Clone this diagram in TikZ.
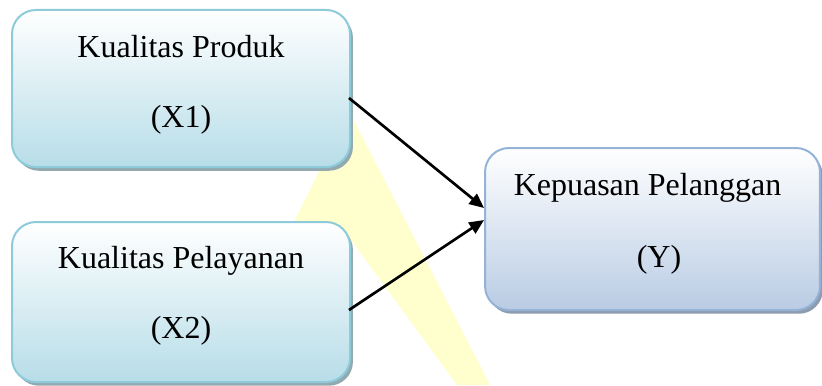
\documentclass[tikz,border=0pt]{standalone}
\usepackage{fontspec}
\setmainfont{Liberation Serif}
\usepackage{tikz}
\usepackage{xcolor}
\usetikzlibrary{calc,positioning,arrows.meta,shadows}

\definecolor{xedge}{RGB}{141,203,218}
\definecolor{xfill}{RGB}{183,221,232}
\definecolor{xshade}{RGB}{147,169,176}
\definecolor{yedge}{RGB}{149,179,215}
\definecolor{yfill}{RGB}{185,204,228}
\definecolor{yshade}{RGB}{142,156,176}
\definecolor{marker}{RGB}{255,255,206}

\tikzset{
	varbox/.style={rectangle, rounded corners=9pt, line width=.75pt, inner sep=0pt},
	xbox/.style={varbox, draw=xedge, top color=white, bottom color=xfill,
		drop shadow={shadow xshift=1.1pt, shadow yshift=-1.4pt, fill=xshade, opacity=1}},
	ybox/.style={varbox, draw=yedge, top color=white, bottom color=yfill,
		drop shadow={shadow xshift=1.1pt, shadow yshift=-1.4pt, fill=yshade, opacity=1}},
	txt/.style={anchor=base, inner sep=0pt, font=\fontsize{12}{14}\selectfont},
	arr/.style={-{Triangle[length=5.5pt,width=4.8pt]}, line width=1pt}
}

\begin{document}
\begin{tikzpicture}[x=0.375pt, y=-0.375pt]
			\useasboundingbox (0,0) rectangle (822,385);

			% highlighter mark behind the boxes
			\fill[marker] (349,111) -- (490,385) -- (457,385) -- (343,229) -- (285,240) -- cycle;

			\node[xbox, minimum width=126.75pt, minimum height=58.9pt] (x1) at (181,88.5) {};
				\node[txt] (x1a) at (181,57) {Kualitas Produk};
				\node[txt] (x1b) at (181,127) {(X1)};

			\node[xbox, minimum width=126.75pt, minimum height=60pt] (x2) at (181,302) {};
				\node[txt] (x2a) at (181,268) {Kualitas Pelayanan};
				\node[txt] (x2b) at (181,338) {(X2)};

			\node[ybox, minimum width=125.6pt, minimum height=60.75pt] (yy) at (652.5,229) {};
				\node[txt] (yya) at (647.5,195) {Kepuasan Pelanggan};
				\node[txt] (yyb) at (659,267) {(Y)};

			\draw[arr] ($(x1.east)+(-2,9.5)$) -- ($(yy.west)+(0,-21)$);
			\draw[arr] ($(x2.east)+(-2,8)$) -- ($(yy.west)+(0,-9)$);

		\end{tikzpicture}
\end{document}
